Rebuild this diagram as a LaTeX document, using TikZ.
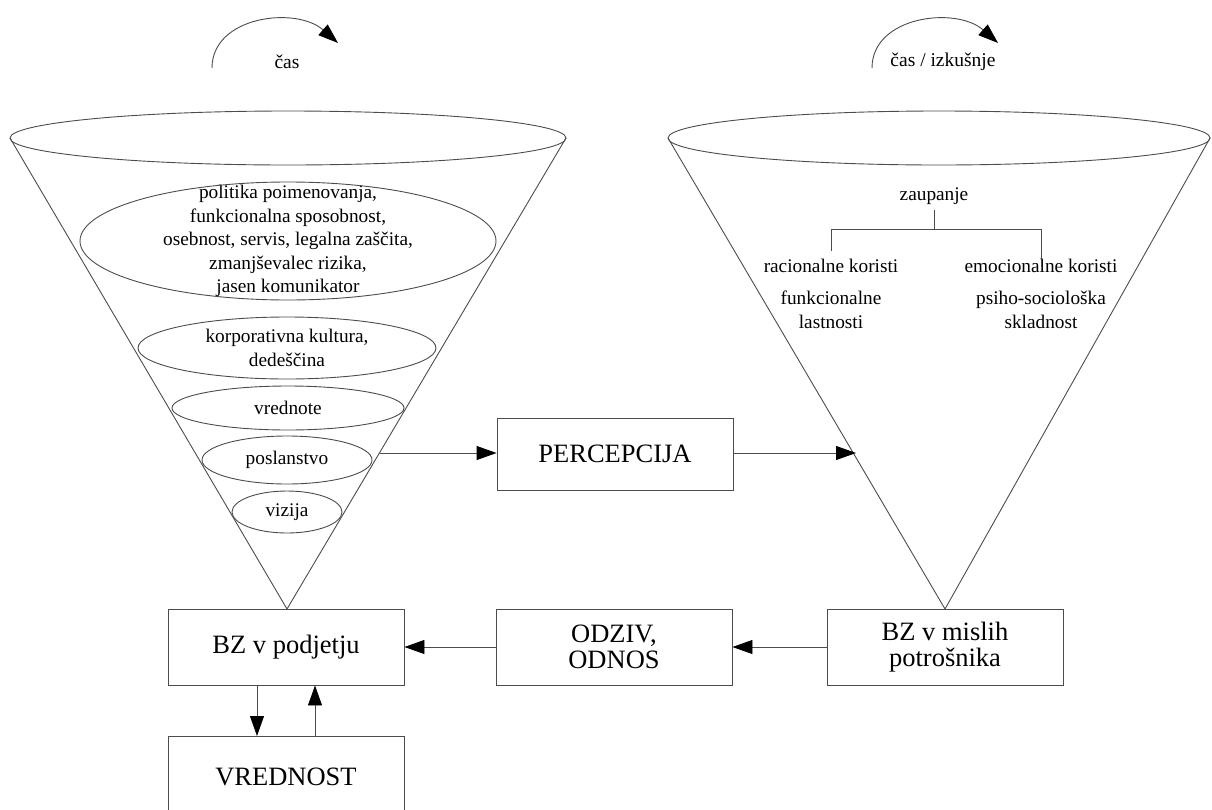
\documentclass[tikz,border=0pt]{standalone}
\usepackage{fontspec}
\setmainfont{Liberation Serif}
\usetikzlibrary{arrows.meta}
\begin{document}
\begin{tikzpicture}[x=1pt,y=-1pt,
  line/.style={draw=black!70, line width=0.9pt},
  tip/.style={line, -{Triangle[length=20pt,width=14pt,color=black]}},
  box/.style={line, rectangle, minimum width=236pt, minimum height=76pt,
    inner sep=0pt, font=\fontsize{26.5}{26}\selectfont, align=center},
  lbl/.style={font=\fontsize{19.3}{23.5}\selectfont, align=center, inner sep=0pt},
  timelbl/.style={font=\fontsize{19.5}{23}\selectfont, inner sep=0pt}]
\useasboundingbox (0,0) rectangle (1212,809);
\clip (0,0) rectangle (1212,809);

% time arrows above the cones
\coordinate (t1a) at (212,68);  \coordinate (t1b) at (338,43);
\draw[tip] (t1a) .. controls (212,16) and (296,6) .. (t1b);
\node[timelbl] (t1) at (287,62) {čas};
\coordinate (t2a) at (872,68);  \coordinate (t2b) at (998,43);
\draw[tip] (t2a) .. controls (872,16) and (956,6) .. (t2b);
\node[timelbl] (t2) at (943,62) {čas / izkušnje};

% left cone
\coordinate (lL) at (10,138);
\coordinate (lR) at (566,138);
\coordinate (lapex) at (287,609);
\draw[line] (288,138) ellipse [x radius=278pt, y radius=27pt];
\draw[line] (lL) -- (lapex) -- (lR);

\node[lbl] (e1) at (288,241) {politika poimenovanja,\\funkcionalna sposobnost,\\osebnost, servis, legalna zaščita,\\zmanjševalec rizika,\\jasen komunikator};
\draw[line] (e1.center) ellipse [x radius=208pt, y radius=59pt];
\node[lbl] (e2) at (287,348) {korporativna kultura,\\dedeščina};
\draw[line] (e2.center) ellipse [x radius=149pt, y radius=31pt];
\node[lbl] (e3) at (288,408) {vrednote};
\draw[line] (e3.center) ellipse [x radius=116pt, y radius=22pt];
\node[lbl] (e4) at (287,460) {poslanstvo};
\draw[line] (e4.center) ellipse [x radius=85pt, y radius=24pt];
\node[lbl] (e5) at (287,512) {vizija};
\draw[line] (e5.center) ellipse [x radius=55pt, y radius=21pt];

% right cone
\coordinate (rL) at (668,138);
\coordinate (rR) at (1210,138);
\coordinate (rapex) at (945,609);
\draw[line] (939,138) ellipse [x radius=271pt, y radius=27pt];
\draw[line] (rL) -- (rapex) -- (rR);

\node[lbl] (zau) at (934,196) {zaupanje};
\node[lbl] (rac) at (831,266) {racionalne koristi};
\node[lbl] (emo) at (1041,266) {emocionalne koristi};
\node[lbl] (fun) at (831,310) {funkcionalne\\lastnosti};
\node[lbl] (psi) at (1041,310) {psiho-sociološka\\skladnost};
\coordinate (tj) at (934,229);
\draw[line] (zau.south) ++(0,5) -- (tj);
\draw[line] (rac.north) ++(0,-8) -- (831,229) -- (1041,229) -- ([yshift=-8pt]emo.north);

% boxes
\node[box, minimum height=72pt] (per) at (615,454) {PERCEPCIJA};
\node[box] (bzp) at (286,647) {BZ v podjetju};
\node[box] (odz) at (614,647) {ODZIV,\\ODNOS};
\node[box] (bzm) at (945,647) {BZ v mislih\\potrošnika};
\node[box, minimum height=140pt, anchor=north] (vre) at (286,736) {};
\node[font=\fontsize{26.5}{26}\selectfont, inner sep=0pt] (vret) at (286,777) {VREDNOST};

% connectors
\coordinate (lout) at (380,453);
\coordinate (rin) at (856,453);
\draw[tip] (lout) -- (per.west |- lout);
\draw[tip] (per.east |- rin) -- (rin);
\draw[tip] (bzm.west) -- (odz.east);
\draw[tip] (odz.west) -- (bzp.east);
\draw[tip] ([xshift=-29pt]bzp.south) -- ([xshift=-29pt]vre.north);
\draw[tip] ([xshift=29pt]vre.north) -- ([xshift=29pt]bzp.south);
\end{tikzpicture}
\end{document}
